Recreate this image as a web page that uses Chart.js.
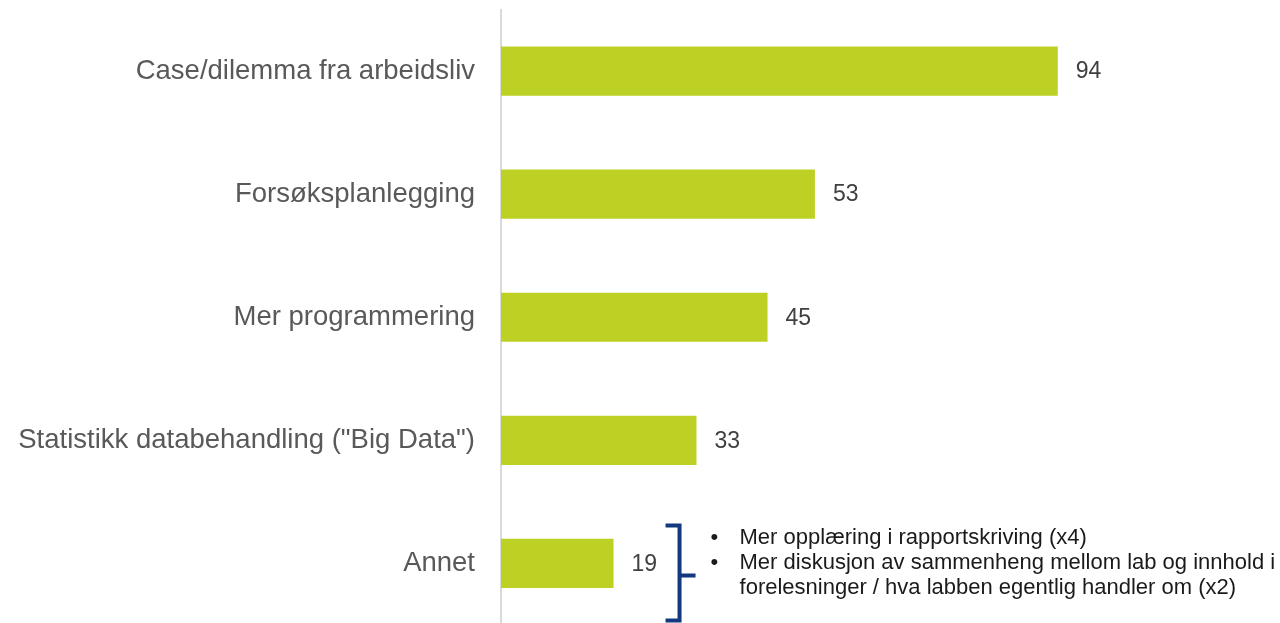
<!DOCTYPE html>
<html>
<head>
<meta charset="utf-8">
<script src="https://cdn.jsdelivr.net/npm/chart.js@4/dist/chart.umd.min.js"></script>
<style>
    html, body { margin: 0; padding: 0; background: #fff; overflow: hidden; }
    #wrap { position: relative; width: 1280px; height: 625px; }
</style>
</head>
<body>
<div id="wrap"><canvas id="chart"></canvas></div>
<script>
    // Chart data
    const categories = [
        'Case/dilemma fra arbeidsliv',
        'Forsøksplanlegging',
        'Mer programmering',
        'Statistikk databehandling ("Big Data")',
        'Annet'
    ];
    const counts = [94, 53, 45, 33, 19];
    const xMax = 130;

    // Notes shown beside the "Annet" bar (bullet, text)
    const annetNotes = [
        ['•', 'Mer opplæring i rapportskriving (x4)'],
        ['•', 'Mer diskusjon av sammenheng mellom lab og innhold i'],
        ['', 'forelesninger / hva labben egentlig handler om (x2)']
    ];

    const FONT = '"Liberation Sans", Arial, Helvetica, sans-serif';

    /**
     * Value labels to the right of each bar
     */
    const valueLabels = {
        id: 'valueLabels',
        afterDatasetsDraw: function(chart) {
            const ctx = chart.ctx;
            const meta = chart.getDatasetMeta(0);
            ctx.save();
            ctx.font = '23px ' + FONT;
            ctx.fillStyle = '#404040';
            ctx.textAlign = 'left';
            ctx.textBaseline = 'middle';
            meta.data.forEach(function(bar, i) {
                ctx.fillText(String(counts[i]), bar.x + 18, bar.y + 1);
            });
            ctx.restore();
        }
    };

    /**
     * Bracket and bullet notes next to the last bar
     */
    const annetNote = {
        id: 'annetNote',
        afterDraw: function(chart) {
            const ctx = chart.ctx;
            const meta = chart.getDatasetMeta(0);
            const bar = meta.data[categories.length - 1];
            const bx = bar.x;
            const by = bar.y;

            ctx.save();
            // bracket
            ctx.strokeStyle = '#12397f';
            ctx.lineWidth = 4;
            ctx.lineJoin = 'miter';
            ctx.beginPath();
            ctx.moveTo(bx + 52, by - 38);
            ctx.lineTo(bx + 66, by - 38);
            ctx.lineTo(bx + 66, by + 57);
            ctx.lineTo(bx + 52, by + 57);
            ctx.moveTo(bx + 66, by + 12);
            ctx.lineTo(bx + 82, by + 12);
            ctx.stroke();

            // bullet text
            ctx.font = '22px ' + FONT;
            ctx.fillStyle = '#1a1a1a';
            ctx.textBaseline = 'middle';
            ctx.textAlign = 'left';
            annetNotes.forEach(function(note, i) {
                const y = by - 26 + i * 25;
                if (note[0]) {
                    ctx.fillText(note[0], bx + 97, y);
                }
                ctx.fillText(note[1], bx + 126, y);
            });
            ctx.restore();
        }
    };

    new Chart(document.getElementById('chart'), {
        type: 'bar',
        data: {
            labels: categories,
            datasets: [{
                data: counts,
                backgroundColor: '#bdd024',
                borderWidth: 0,
                barPercentage: 0.4,
                categoryPercentage: 1
            }]
        },
        options: {
            indexAxis: 'y',
            responsive: true,
            maintainAspectRatio: false,
            animation: false,
            layout: {
                padding: { left: 0, right: 9, top: 9.5, bottom: 0 }
            },
            plugins: {
                legend: { display: false },
                tooltip: { enabled: false }
            },
            scales: {
                x: {
                    display: false,
                    min: 0,
                    max: xMax
                },
                y: {
                    afterFit: function(scale) {
                        // pin the axis line and drop the label padding above/below
                        scale.width = 501;
                        scale.paddingTop = 0;
                        scale.paddingBottom = 0;
                    },
                    grid: {
                        display: true,
                        drawOnChartArea: false,
                        drawTicks: false
                    },
                    border: {
                        display: true,
                        color: '#d9d9d9',
                        width: 2
                    },
                    ticks: {
                        padding: 26,
                        color: '#595959',
                        font: { family: FONT, size: 27.5 }
                    }
                }
            }
        },
        plugins: [valueLabels, annetNote]
    });
</script>
</body>
</html>
